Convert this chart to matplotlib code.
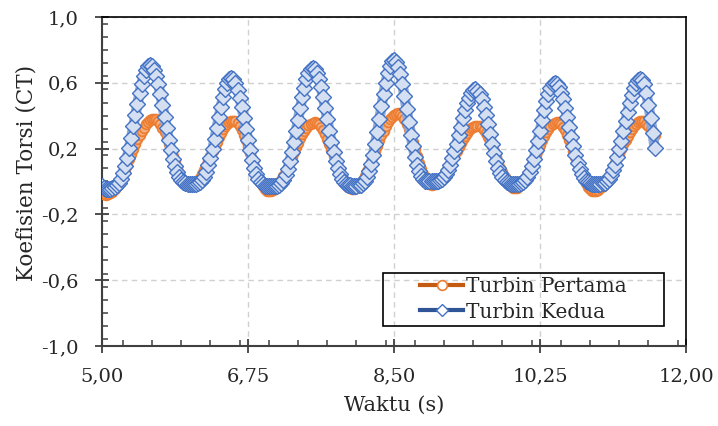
import numpy as np
import matplotlib
matplotlib.use("Agg")
import matplotlib.pyplot as plt
from matplotlib.lines import Line2D
from matplotlib.patches import Rectangle
from matplotlib.ticker import MultipleLocator, FuncFormatter

# ---------------- data: torque coefficient vs time ----------------
# sampling grid 5.000 .. 11.625 s, dt = 0.025 s (266 samples)
waktu = np.linspace(5.0, 11.625, 266)

turbin_pertama = [
    -0.070, -0.078,
    -0.080, -0.078, -0.071, -0.061, -0.047, -0.028, -0.007, 0.017, 0.044, 0.073,
    0.103, 0.134, 0.166, 0.197, 0.227, 0.256, 0.283, 0.307, 0.328, 0.347,
    0.361, 0.371, 0.378, 0.380,
    0.377, 0.366, 0.349, 0.327, 0.299, 0.266, 0.231, 0.194, 0.156, 0.119,
    0.084, 0.051, 0.024, 0.001, -0.016, -0.027, -0.030,
    -0.028, -0.021, -0.010, 0.005, 0.023, 0.045, 0.070, 0.097, 0.125, 0.155,
    0.185, 0.215, 0.243, 0.270, 0.295, 0.317, 0.335, 0.350, 0.361, 0.368, 0.370,
    0.366, 0.355, 0.338, 0.314, 0.285, 0.251, 0.214, 0.175, 0.135, 0.096,
    0.059, 0.025, -0.004, -0.028, -0.045, -0.056, -0.060,
    -0.058, -0.051, -0.041, -0.027, -0.009, 0.012, 0.036, 0.063, 0.091, 0.120,
    0.150, 0.180, 0.209, 0.237, 0.264, 0.288, 0.309, 0.327, 0.341, 0.351,
    0.358, 0.360,
    0.357, 0.348, 0.333, 0.313, 0.288, 0.259, 0.227, 0.193, 0.158, 0.122,
    0.088, 0.056, 0.027, 0.002, -0.018, -0.033, -0.042, -0.045,
    -0.043, -0.036, -0.024, -0.008, 0.011, 0.034, 0.061, 0.089, 0.120, 0.152,
    0.185, 0.218, 0.250, 0.281, 0.309, 0.336, 0.359, 0.378, 0.394, 0.406,
    0.413, 0.415,
    0.411, 0.398, 0.378, 0.351, 0.318, 0.281, 0.240, 0.198, 0.155, 0.114,
    0.077, 0.044, 0.017, -0.003, -0.016, -0.020,
    -0.018, -0.013, -0.004, 0.009, 0.024, 0.042, 0.063, 0.085, 0.109, 0.134,
    0.160, 0.186, 0.211, 0.235, 0.257, 0.278, 0.296, 0.311, 0.324, 0.333,
    0.338, 0.340,
    0.337, 0.329, 0.315, 0.296, 0.272, 0.245, 0.215, 0.183, 0.150, 0.117,
    0.085, 0.055, 0.028, 0.004, -0.015, -0.029, -0.037, -0.040,
    -0.038, -0.030, -0.018, -0.002, 0.019, 0.042, 0.069, 0.098, 0.129, 0.160,
    0.191, 0.222, 0.251, 0.278, 0.301, 0.322, 0.338, 0.350, 0.358, 0.360,
    0.357, 0.347, 0.332, 0.311, 0.285, 0.255, 0.222, 0.186, 0.150, 0.114,
    0.078, 0.045, 0.015, -0.011, -0.032, -0.047, -0.057, -0.060,
    -0.058, -0.052, -0.042, -0.029, -0.012, 0.008, 0.031, 0.056, 0.083, 0.111,
    0.140, 0.170, 0.199, 0.227, 0.254, 0.279, 0.302, 0.322, 0.339, 0.352,
    0.362, 0.368, 0.370,
    0.365, 0.352, 0.335, 0.318, 0.300, 0.285,
]

turbin_kedua = [
    -0.030, -0.040,
    -0.045, -0.045, -0.044, -0.041, -0.035, -0.024, -0.007, 0.018, 0.052, 0.094,
    0.145, 0.203, 0.267, 0.335, 0.404, 0.473, 0.538, 0.595, 0.643, 0.679,
    0.702, 0.710,
    0.702, 0.678, 0.640, 0.590, 0.531, 0.464, 0.393, 0.323, 0.255, 0.193,
    0.138, 0.092, 0.055, 0.027, 0.008, -0.004, -0.011, -0.014, -0.015, -0.015,
    -0.015, -0.014, -0.011, -0.003, 0.010, 0.030, 0.059, 0.098, 0.145, 0.199,
    0.260, 0.325, 0.391, 0.455, 0.512, 0.561, 0.598, 0.622, 0.630,
    0.622, 0.597, 0.559, 0.510, 0.451, 0.385, 0.318, 0.252, 0.189, 0.133,
    0.085, 0.046, 0.017, -0.005, -0.018, -0.026, -0.029, -0.030, -0.030,
    -0.030, -0.029, -0.026, -0.020, -0.007, 0.012, 0.040, 0.076, 0.122, 0.177,
    0.239, 0.306, 0.375, 0.445, 0.512, 0.571, 0.621, 0.658, 0.682, 0.690,
    0.682, 0.659, 0.621, 0.572, 0.513, 0.447, 0.378, 0.308, 0.242, 0.181,
    0.126, 0.081, 0.044, 0.017, -0.003, -0.015, -0.021, -0.024, -0.025, -0.025,
    -0.025, -0.024, -0.020, -0.011, 0.004, 0.029, 0.063, 0.108, 0.164, 0.229,
    0.301, 0.378, 0.456, 0.532, 0.600, 0.658, 0.702, 0.730, 0.740,
    0.729, 0.699, 0.652, 0.591, 0.519, 0.441, 0.361, 0.284, 0.213, 0.151,
    0.101, 0.062, 0.034, 0.016, 0.006, 0.002, 0.000, 0.000,
    0.000, 0.001, 0.003, 0.007, 0.015, 0.028, 0.047, 0.072, 0.103, 0.141,
    0.184, 0.231, 0.282, 0.333, 0.384, 0.433, 0.475, 0.510, 0.537, 0.554, 0.560,
    0.553, 0.532, 0.499, 0.455, 0.404, 0.347, 0.288, 0.230, 0.176, 0.127,
    0.085, 0.051, 0.026, 0.007, -0.005, -0.011, -0.014, -0.015, -0.015,
    -0.015, -0.014, -0.011, -0.004, 0.009, 0.028, 0.056, 0.092, 0.137, 0.189,
    0.248, 0.309, 0.372, 0.433, 0.488, 0.534, 0.570, 0.592, 0.600,
    0.593, 0.573, 0.541, 0.499, 0.448, 0.391, 0.331, 0.272, 0.214, 0.162,
    0.115, 0.076, 0.045, 0.021, 0.004, -0.006, -0.012, -0.014, -0.015, -0.015,
    -0.015, -0.014, -0.012, -0.007, 0.003, 0.017, 0.039, 0.067, 0.103, 0.146,
    0.195, 0.249, 0.307, 0.366, 0.424, 0.479, 0.528, 0.568, 0.599, 0.618, 0.625,
    0.615, 0.590, 0.540, 0.465, 0.385, 0.295, 0.205,
]

label_series = ["Turbin Pertama", "Turbin Kedua"]
x_ticks = [5.00, 6.75, 8.50, 10.25, 12.00]
y_ticks = [-1.0, -0.6, -0.2, 0.2, 0.6, 1.0]

ORANYE = "#ED7D31"
BIRU = "#4472C4"
TEKS = "#262626"

plt.rcParams["font.family"] = ["DejaVu Serif"]

fig = plt.figure(figsize=(7.18, 4.26), dpi=100)
ax = fig.add_axes([102 / 718, 1 - 346 / 426, 584 / 718, 329 / 426])

# series: orange under, blue on top (thick line keeps the marker band continuous)
ax.plot(waktu, turbin_pertama, color=ORANYE, lw=5.0, solid_capstyle="round",
        marker="o", ms=7, mfc="#F4B183", mec=ORANYE, mew=1.3, zorder=3)
ax.plot(waktu, turbin_kedua, color="#8EA9DB", lw=7.5, solid_capstyle="round",
        marker="D", ms=8, mfc="#D5DFF2", mec=BIRU, mew=1.0, zorder=4)

# axes limits, ticks
ax.set_xlim(5, 12)
ax.set_ylim(-1, 1)
ax.set_xticks(x_ticks)
ax.set_yticks(y_ticks)
ax.xaxis.set_minor_locator(MultipleLocator(0.35))
ax.yaxis.set_minor_locator(MultipleLocator(0.08))
ax.xaxis.set_major_formatter(FuncFormatter(lambda v, _: f"{v:.2f}".replace(".", ",")))
ax.yaxis.set_major_formatter(FuncFormatter(lambda v, _: f"{v:.1f}".replace(".", ",")))

ax.tick_params(which="major", direction="inout", length=10, width=1.3,
               color="#404040", labelsize=14, labelcolor=TEKS)
ax.tick_params(axis="x", which="major", pad=10.5)
ax.tick_params(axis="y", which="major", pad=12)
ax.tick_params(which="minor", direction="in", length=4, width=1.1, color="#404040")

ax.grid(True, which="major", color="#D0D0D0", lw=1.0, ls=(0, (4, 3)), zorder=0)
ax.set_axisbelow(True)

for side in ["left", "bottom"]:
    ax.spines[side].set_color("#404040")
    ax.spines[side].set_linewidth(1.5)
for side in ["top", "right"]:
    ax.spines[side].set_color("black")
    ax.spines[side].set_linewidth(1.2)

ax.set_xlabel("Waktu (s)", fontsize=15, color=TEKS, va="center")
ax.set_ylabel("Koefisien Torsi (CT)", fontsize=15.5, color=TEKS, va="center")
ax.xaxis.set_label_coords(0.5, (346 - 405) / 329)
ax.yaxis.set_label_coords((27 - 102) / 584, (346 - 172.5) / 329)

# legend: content centred inside a plain rectangular frame
handles = [
    Line2D([], [], color="#C55A11", lw=3, marker="o", ms=7, mfc="white", mec=ORANYE, mew=1.2),
    Line2D([], [], color="#2F5597", lw=3, marker="D", ms=6.5, mfc="white", mec=BIRU, mew=1.0),
]
ax.legend(handles, label_series, loc="center", bbox_to_anchor=(0.7217, 0.1413),
          frameon=False, fontsize=14.5, handlelength=2.1, handletextpad=0.15,
          labelspacing=0.3, borderpad=0.2, labelcolor=TEKS)
ax.add_patch(Rectangle(((383 - 102) / 584, (346 - 326) / 329), 281 / 584, 53 / 329,
                       transform=ax.transAxes, fill=False, ec="black", lw=1.2, zorder=6))

fig.savefig("out.png", dpi=100)
